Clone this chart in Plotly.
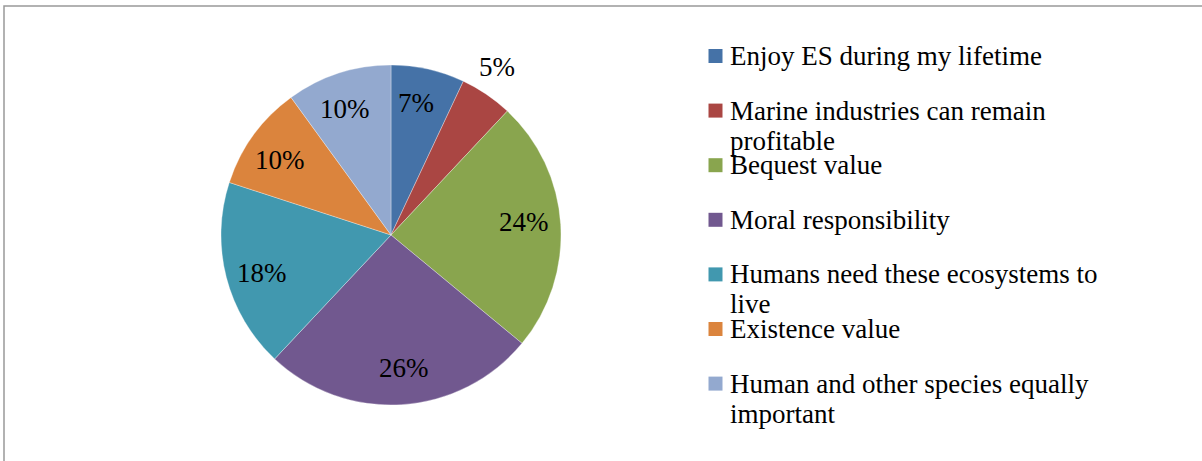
import math
import plotly.graph_objects as go

# Reasons for valuing marine ecosystem services (share of responses, %)
labels = [
    "Enjoy ES during my lifetime",
    "Marine industries can remain profitable",
    "Bequest value",
    "Moral responsibility",
    "Humans need these ecosystems to live",
    "Existence value",
    "Human and other species equally important",
]
legend_lines = [
    ["Enjoy ES during my lifetime"],
    ["Marine industries can remain", "profitable"],
    ["Bequest value"],
    ["Moral responsibility"],
    ["Humans need these ecosystems to", "live"],
    ["Existence value"],
    ["Human and other species equally", "important"],
]
values = [7, 5, 24, 26, 18, 10, 10]
colors = ["#4572A7", "#AA4643", "#89A54E", "#71588F", "#4198AF", "#DB843D", "#93A9CF"]
outside = [False, True, False, False, False, False, False]

W, H = 1202, 461
FONT = "Liberation Serif"
FSIZE = 27

# pie geometry in pixels
cx, cy, R = 391, 235, 170


def px(x):
    return x / W


def py(y):
    return 1 - y / H


fig = go.Figure()
fig.add_trace(go.Pie(
    labels=labels,
    values=values,
    sort=False,
    direction="clockwise",
    rotation=0,
    marker=dict(colors=colors, line=dict(color="rgba(255,255,255,0.45)", width=0.7)),
    textinfo="none",
    hoverinfo="label+percent",
    showlegend=False,
    domain=dict(x=[px(cx - R), px(cx + R)], y=[py(cy + R), py(cy - R)]),
))

annotations = []
shapes = []

# percentage labels placed near the middle angle of each slice
total = sum(values)
start = 0.0
for v, out in zip(values, outside):
    frac = v / total
    mid = (start + frac / 2) * 2 * math.pi - math.radians(2)
    r = R * (1.17 if out else 0.788)
    lx = cx + r * math.sin(mid)
    ly = cy - r * math.cos(mid)
    annotations.append(dict(
        x=px(lx), y=py(ly), xref="paper", yref="paper",
        text=f"{v}%", showarrow=False,
        font=dict(family=FONT, size=FSIZE, color="#000000"),
        xanchor="center", yanchor="middle",
    ))
    start += frac

# legend: colour square plus wrapped label text, one annotation per line
leg_x, leg_y0, leg_step, line_gap = 715.5, 56, 54.6, 30
for i, (lines, c) in enumerate(zip(legend_lines, colors)):
    yc = leg_y0 + i * leg_step
    shapes.append(dict(
        type="rect", xref="paper", yref="paper",
        x0=px(leg_x - 7), x1=px(leg_x + 7), y0=py(yc + 7), y1=py(yc - 7),
        fillcolor=c, line=dict(width=0),
    ))
    for j, line in enumerate(lines):
        annotations.append(dict(
            x=px(728), y=py(yc + j * line_gap), xref="paper", yref="paper",
            text=line, showarrow=False, align="left",
            font=dict(family=FONT, size=FSIZE, color="#000000"),
            xanchor="left", yanchor="middle",
        ))

# chart frame
shapes.append(dict(
    type="rect", xref="paper", yref="paper",
    x0=px(4), x1=px(W + 5), y0=py(H + 5), y1=py(6),
    line=dict(color="#999999", width=1.5), fillcolor="rgba(0,0,0,0)",
))

fig.update_layout(
    width=W, height=H,
    margin=dict(l=0, r=0, t=0, b=0),
    paper_bgcolor="#FFFFFF",
    plot_bgcolor="#FFFFFF",
    annotations=annotations,
    shapes=shapes,
)

fig.write_html("out.html")
